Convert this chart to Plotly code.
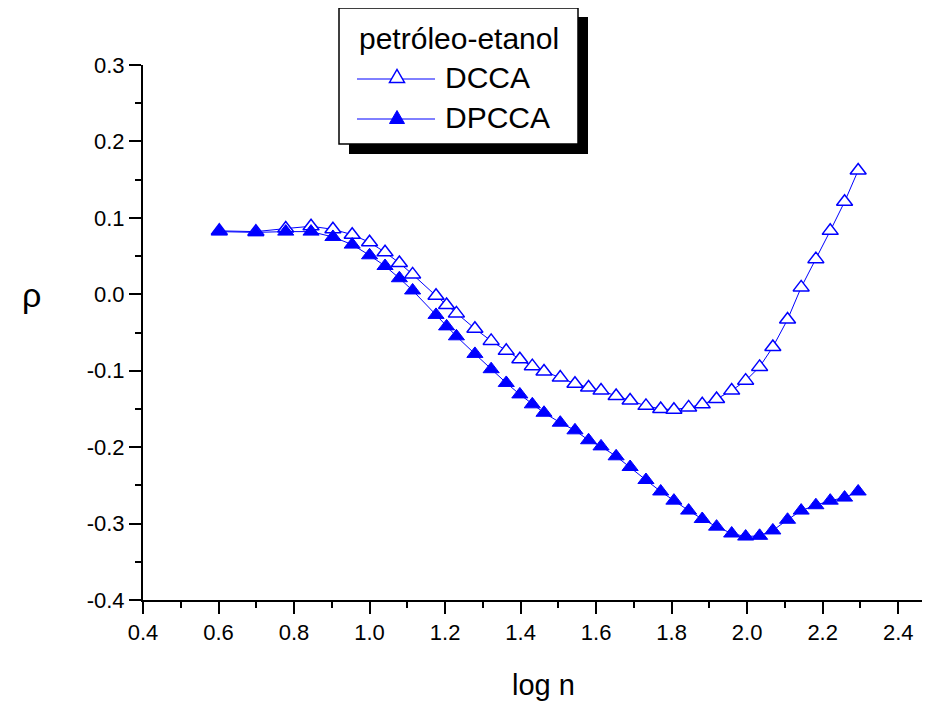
import plotly.graph_objects as go

# ---- data ----
log_n = [0.602, 0.699, 0.778, 0.845, 0.903, 0.954, 1.000, 1.041, 1.079, 1.114,
         1.176, 1.204, 1.230, 1.279, 1.322, 1.362, 1.398, 1.431, 1.462, 1.505,
         1.544, 1.580, 1.613, 1.653, 1.690, 1.732, 1.771, 1.806, 1.845, 1.881,
         1.919, 1.959, 1.996, 2.033, 2.068, 2.107, 2.143, 2.182, 2.220, 2.258,
         2.294]

dcca = [0.083, 0.082, 0.086, 0.089, 0.085, 0.078, 0.068, 0.055, 0.041, 0.026,
        -0.002, -0.014, -0.025, -0.045, -0.061, -0.074, -0.085, -0.094, -0.101, -0.109,
        -0.117, -0.122, -0.126, -0.133, -0.139, -0.146, -0.150, -0.151, -0.148, -0.144,
        -0.137, -0.126, -0.113, -0.095, -0.069, -0.033, 0.009, 0.046, 0.083, 0.121,
        0.162]

dpcca = [0.082, 0.081, 0.082, 0.082, 0.075, 0.065, 0.051, 0.037, 0.021, 0.005,
         -0.027, -0.042, -0.055, -0.078, -0.098, -0.116, -0.131, -0.144, -0.155, -0.168,
         -0.178, -0.191, -0.199, -0.212, -0.226, -0.243, -0.258, -0.270, -0.283, -0.294,
         -0.304, -0.313, -0.317, -0.316, -0.309, -0.295, -0.283, -0.276, -0.270, -0.266,
         -0.258]

x_ticks = [0.4, 0.6, 0.8, 1.0, 1.2, 1.4, 1.6, 1.8, 2.0, 2.2, 2.4]
x_tick_text = ["0.4", "0.6", "0.8", "1.0", "1.2", "1.4", "1.6", "1.8", "2.0", "2.2", "2.4"]
y_ticks = [-0.4, -0.3, -0.2, -0.1, 0.0, 0.1, 0.2, 0.3]
y_tick_text = ["-0.4", "-0.3", "-0.2", "-0.1", "0.0", "0.1", "0.2", "0.3"]

legend_title = "petróleo-etanol"
series_names = ["DCCA", "DPCCA"]
x_title = "log n"
y_title = "ρ"

BLUE = "#0000FF"
FONT = "Arial, 'Liberation Sans', sans-serif"

W, H = 930, 704
OFF = 8  # page body margin offset
# target plot area in page pixels: x 143..930, y 65..600
L, T = 143 - OFF, 65 - OFF
R = W - (930 - OFF)
B = H - (600 - OFF)

fig = go.Figure()
fig.add_trace(go.Scatter(
    x=log_n, y=dcca, mode="lines+markers", name=series_names[0],
    line=dict(color=BLUE, width=1),
    marker=dict(symbol="triangle-up", size=14, color="white",
                line=dict(color=BLUE, width=1.5)),
    showlegend=False))
fig.add_trace(go.Scatter(
    x=log_n, y=dpcca, mode="lines+markers", name=series_names[1],
    line=dict(color=BLUE, width=1),
    marker=dict(symbol="triangle-up", size=14, color=BLUE,
                line=dict(color=BLUE, width=1)),
    showlegend=False))

# page pixel -> paper helpers (for legend / title placement only)
pw = W - L - R
ph = H - T - B
def px(p):
    return (p - OFF - L) / pw
def py(p):
    return (H - B - (p - OFF)) / ph

shapes = []
# legend shadow + box
shapes.append(dict(type="rect", xref="paper", yref="paper",
                   x0=px(349), x1=px(588), y0=py(154), y1=py(17),
                   fillcolor="black", line=dict(color="black", width=0), layer="above"))
shapes.append(dict(type="rect", xref="paper", yref="paper",
                   x0=px(339), x1=px(578), y0=py(144), y1=py(8),
                   fillcolor="white", line=dict(color="black", width=1.5), layer="above"))
# legend sample lines
for yy in (79, 119):
    shapes.append(dict(type="line", xref="paper", yref="paper",
                       x0=px(357), x1=px(435), y0=py(yy), y1=py(yy),
                       line=dict(color=BLUE, width=1), layer="above"))
# legend sample triangles
def tri(cx, cy, w=15, h=13):
    return "M {},{} L {},{} L {},{} Z".format(
        px(cx - w / 2), py(cy + h / 2), px(cx + w / 2), py(cy + h / 2), px(cx), py(cy - h / 2))
shapes.append(dict(type="path", xref="paper", yref="paper", path=tri(397, 76),
                   fillcolor="white", line=dict(color=BLUE, width=1.5), layer="above"))
shapes.append(dict(type="path", xref="paper", yref="paper", path=tri(397, 117),
                   fillcolor=BLUE, line=dict(color=BLUE, width=1), layer="above"))

annotations = [
    dict(text=legend_title, xref="paper", yref="paper", x=px(357), y=py(38),
         xanchor="left", yanchor="middle", showarrow=False,
         font=dict(family=FONT, size=30, color="black")),
    dict(text=series_names[0], xref="paper", yref="paper", x=px(443), y=py(78),
         xanchor="left", yanchor="middle", showarrow=False,
         font=dict(family=FONT, size=30, color="black")),
    dict(text=series_names[1], xref="paper", yref="paper", x=px(443), y=py(118),
         xanchor="left", yanchor="middle", showarrow=False,
         font=dict(family=FONT, size=30, color="black")),
    dict(text=y_title, xref="paper", yref="paper", x=px(31), y=py(295),
         xanchor="center", yanchor="middle", showarrow=False,
         font=dict(family=FONT, size=34, color="black")),
    dict(text=x_title, xref="paper", yref="paper", x=px(543), y=py(685),
         xanchor="center", yanchor="middle", showarrow=False,
         font=dict(family=FONT, size=29, color="black")),
]

fig.update_layout(
    width=W, height=H,
    margin=dict(l=L, r=R, t=T, b=B, pad=0),
    paper_bgcolor="white", plot_bgcolor="white",
    font=dict(family=FONT, color="black"),
    shapes=shapes, annotations=annotations,
    xaxis=dict(range=[0.4, 0.4 + (930 - 143) / 377.6], tickmode="array",
               tickvals=x_ticks, ticktext=x_tick_text,
               ticks="outside", ticklen=12, tickwidth=1.5, tickcolor="black",
               showline=True, linecolor="black", linewidth=2,
               showgrid=False, zeroline=False,
               tickfont=dict(family=FONT, size=22, color="black"),
               minor=dict(tickmode="linear", tick0=0.4, dtick=0.1, ticks="outside",
                          ticklen=6, tickwidth=1.5, tickcolor="black", showgrid=False)),
    yaxis=dict(range=[-0.4, 0.3], tickmode="array", tickvals=y_ticks, ticktext=y_tick_text,
               ticks="outside", ticklen=12, tickwidth=1.5, tickcolor="black",
               showline=True, linecolor="black", linewidth=2,
               showgrid=False, zeroline=False,
               tickfont=dict(family=FONT, size=22, color="black"),
               minor=dict(tickmode="linear", tick0=-0.4, dtick=0.05, ticks="outside",
                          ticklen=6, tickwidth=1.5, tickcolor="black", showgrid=False)),
)

fig.write_html("out.html")
